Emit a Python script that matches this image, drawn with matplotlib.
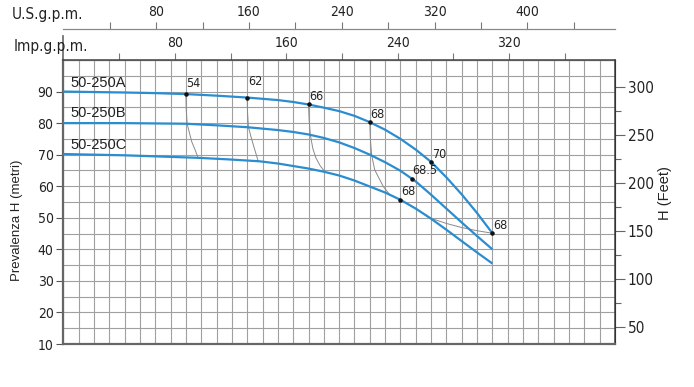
import numpy as np
import matplotlib
matplotlib.use("Agg")
import matplotlib.pyplot as plt

# flow in l/min, head in metres
qA = [0, 200, 300, 400, 500, 600, 700, 750, 800, 850, 900, 950, 1000,
      1050, 1100, 1150, 1200, 1250, 1300, 1350, 1400]
hA = [90.0, 89.7, 89.5, 89.2, 88.7, 88.1, 87.3, 86.7, 85.9, 84.9, 83.8, 82.3, 80.3,
      77.9, 75.0, 71.6, 67.7, 62.8, 57.4, 51.5, 45.1]
qB = [0, 200, 400, 500, 600, 700, 750, 800, 850, 900, 950, 1000,
      1050, 1100, 1150, 1200, 1250, 1300, 1350, 1400]
hB = [80.0, 80.0, 79.8, 79.3, 78.7, 77.8, 77.2, 76.4, 75.3, 73.9, 72.1, 70.0,
      67.6, 64.9, 61.5, 57.3, 52.9, 48.5, 44.2, 40.0]
qC = [0, 200, 440, 540, 640, 700, 750, 800, 850, 900, 950, 1000,
      1050, 1100, 1150, 1200, 1250, 1300, 1350, 1400]
hC = [70.2, 69.8, 69.0, 68.5, 67.9, 67.2, 66.4, 65.6, 64.6, 63.4, 61.8, 59.9,
      58.0, 55.7, 52.9, 49.7, 46.2, 42.6, 39.0, 35.5]

# efficiency lines
iso_q = {
    "54": [400, 401, 404, 419, 430, 440],
    "62": [600, 601, 604, 612, 620, 636],
    "66": [800, 802, 806, 814, 824, 838, 854],
    "68": [1000, 1002, 1006, 1016, 1044, 1066, 1100, 1150, 1200, 1250, 1300, 1350, 1400],
}
iso_h = {
    "54": [89.2, 84.5, 79.8, 74.1, 71.5, 69.0],
    "62": [88.1, 83.5, 78.7, 75.8, 73.1, 67.9],
    "66": [85.9, 81.0, 76.3, 72.0, 69.0, 66.5, 64.5],
    "68": [80.3, 74.7, 69.9, 65.2, 59.9, 57.2, 55.7, 52.9, 49.8, 48.2, 46.9, 45.9, 45.1],
}

# efficiency points: flow, head, label, lift of the label in points
pt_q = [400, 600, 800, 1000, 1200, 1400, 1137, 1100]
pt_h = [89.2, 88.1, 85.9, 80.3, 67.7, 45.1, 62.4, 55.7]
pt_lab = ["54", "62", "66", "68", "70", "68", "68.5", "68"]
pt_dy = [3, 7, 1, 1, 1, 1, 1, 1]

curve_names = ["50-250A", "50-250B", "50-250C"]
name_h = [90.6, 81.0, 71.0]

us_major = [80, 160, 240, 320, 400]
us_minor = [40, 120, 200, 280, 360, 440]
imp_major = [80, 160, 240, 320]
imp_minor = [40, 120, 200, 280, 360]
ft_major = [50, 100, 150, 200, 250, 300]
ft_minor = [75, 125, 175, 225, 275]

blue = "#2b8dd0"
grid_c = "#a0a0a0"
dark = "#222222"
cond = dict(family="DejaVu Sans", stretch="condensed")
arial = dict(family="Liberation Sans")

fig = plt.figure(figsize=(6.94, 3.87), dpi=100)
ax = fig.add_axes([63.3 / 694, 43 / 387, (615 - 63.3) / 694, 284 / 387])
ax.set_xlim(0, 1800)
ax.set_ylim(10, 100)

ax.set_xticks(np.arange(0, 1801, 50))
ax.tick_params(axis="x", bottom=False, labelbottom=False)
ax.set_yticks(np.arange(10, 91, 10))
ax.set_yticks(np.arange(10, 101, 5), minor=True)
ax.tick_params(axis="y", which="major", direction="out", length=5, width=0.8,
               color="#555555", pad=2, labelcolor=dark)
ax.tick_params(axis="y", which="minor", length=0)
for lab in ax.get_yticklabels():
    lab.set_fontproperties(cond)
    lab.set_fontsize(10)
ax.grid(True, which="major", color=grid_c, lw=0.8)
ax.yaxis.grid(True, which="minor", color=grid_c, lw=0.8)
ax.set_axisbelow(True)

for side in ["left", "bottom"]:
    ax.spines[side].set_color("#666666")
    ax.spines[side].set_linewidth(1.6)
for side in ["top", "right"]:
    ax.spines[side].set_color("#444444")
    ax.spines[side].set_linewidth(1.1)
# left frame line runs up past the top edge
ax.plot([0, 0], [1, 1 + 24 / 284], transform=ax.transAxes, clip_on=False,
        color="#666666", lw=1.2)

# curves
for q, h in [(qA, hA), (qB, hB), (qC, hC)]:
    ax.plot(q, h, color=blue, lw=1.6, solid_capstyle="butt", solid_joinstyle="round", zorder=3)
for k in iso_q:
    ax.plot(iso_q[k], iso_h[k], color="#8a8a8a", lw=0.7, zorder=2)
ax.scatter(pt_q, pt_h, s=5, color="#111111", zorder=4)
for q, h, lab, dy in zip(pt_q, pt_h, pt_lab, pt_dy):
    ax.annotate(lab, (q, h), xytext=(0.5, dy), textcoords="offset points",
                ha="left", va="bottom", fontsize=9, color=dark, **cond)
for name, h in zip(curve_names, name_h):
    ax.text(22, h, name, ha="left", va="bottom", fontsize=10.5, color=dark, **arial)

# top flow scales
imp = ax.secondary_xaxis("top", functions=(lambda q: q / 4.546, lambda g: g * 4.546))
imp.set_xticks(imp_major)
imp.set_xticks(imp_minor, minor=True)
imp.tick_params(which="both", direction="out", length=5, width=0.8, color="#777777",
                pad=2, labelcolor=dark)
for lab in imp.get_xticklabels():
    lab.set_fontproperties(cond)
    lab.set_fontsize(10)

us = ax.secondary_xaxis(1 + 31 / 284, functions=(lambda q: q / 3.785, lambda g: g * 3.785))
us.set_xticks(us_major)
us.set_xticks(us_minor, minor=True)
us.tick_params(which="both", direction="out", length=5, width=0.8, color="#777777",
               pad=2, labelcolor=dark)
us.spines["top"].set_color("#888888")
us.spines["top"].set_linewidth(0.9)
for lab in us.get_xticklabels():
    lab.set_fontproperties(cond)
    lab.set_fontsize(10)

# feet scale on the right
ft = ax.secondary_yaxis("right", functions=(lambda m: m * 3.28084, lambda f: f / 3.28084))
ft.set_yticks(ft_major)
ft.set_yticks(ft_minor, minor=True)
ft.tick_params(which="major", direction="out", length=7, width=0.8, color="#666666",
               pad=2, labelcolor=dark)
ft.tick_params(which="minor", direction="out", length=4, width=0.8, color="#666666")
for lab in ft.get_yticklabels():
    lab.set_fontproperties(cond)
    lab.set_fontsize(11)

fig.text(12 / 694, 1 - 15 / 387, "U.S.g.p.m.", ha="left", va="center",
         fontsize=11, color=dark, **cond)
fig.text(14 / 694, 1 - 47 / 387, "Imp.g.p.m.", ha="left", va="center",
         fontsize=11, color=dark, **cond)
fig.text(17 / 694, 1 - 220 / 387, "Prevalenza H (metri)", rotation=90,
         ha="center", va="center", fontsize=9.5, color=dark, **arial)
fig.text(665 / 694, 1 - 193 / 387, "H (Feet)", rotation=90,
         ha="center", va="center", fontsize=10.5, color=dark, **arial)

fig.savefig("out.png", dpi=100)
